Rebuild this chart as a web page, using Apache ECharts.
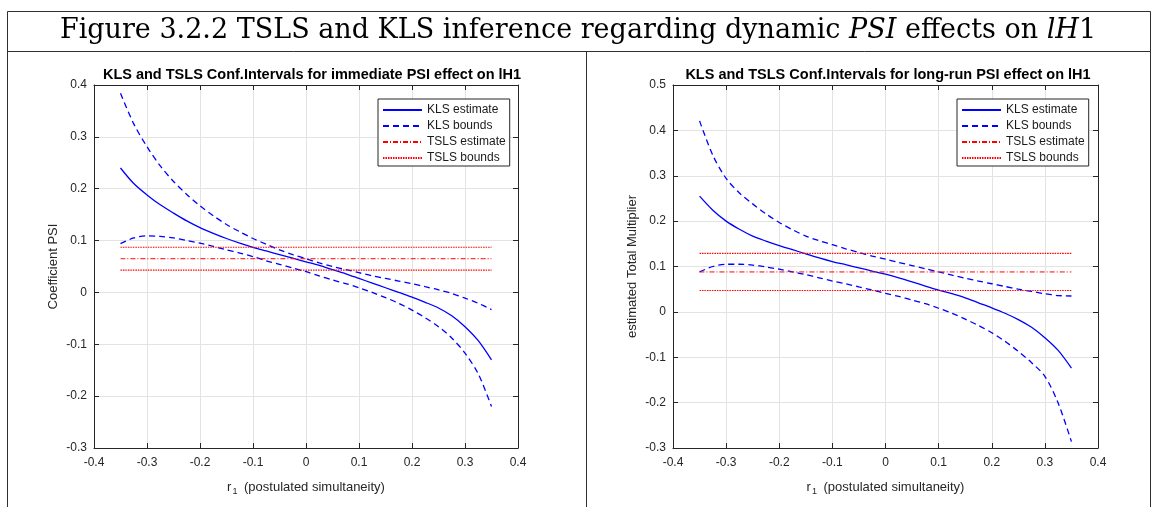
<!DOCTYPE html>
<html>
<head>
<meta charset="utf-8">
<script src="https://cdn.jsdelivr.net/npm/echarts@6/dist/echarts.min.js"></script>
<style>
  html, body { margin: 0; padding: 0; background: #fff; }
  #chart { width: 1154px; height: 507px; }
</style>
</head>
<body>
<div id="chart"></div>
<script>
// postulated simultaneity r1
const r1 = [-0.35, -0.325, -0.3, -0.275, -0.25, -0.225, -0.2, -0.175, -0.15, -0.125, -0.1, -0.075, -0.05, -0.025, 0,
  0.025, 0.05, 0.075, 0.1, 0.125, 0.15, 0.175, 0.2, 0.225, 0.25, 0.275, 0.3, 0.325, 0.35];

// immediate PSI effect
const immKlsEstimate = [0.240, 0.210, 0.188, 0.169, 0.153, 0.138, 0.125, 0.114, 0.104, 0.095, 0.087, 0.080, 0.073, 0.066, 0.059,
  0.052, 0.044, 0.036, 0.027, 0.018, 0.009, 0.000, -0.009, -0.019, -0.030, -0.045, -0.066, -0.093, -0.130];
const immKlsUpper = [0.384, 0.325, 0.281, 0.244, 0.214, 0.189, 0.167, 0.148, 0.131, 0.117, 0.104, 0.093, 0.082, 0.073, 0.065,
  0.057, 0.050, 0.044, 0.038, 0.032, 0.027, 0.022, 0.017, 0.011, 0.005, -0.002, -0.011, -0.021, -0.033];
const immKlsLower = [0.094, 0.105, 0.109, 0.108, 0.105, 0.100, 0.095, 0.089, 0.082, 0.076, 0.069, 0.061, 0.054, 0.047, 0.040,
  0.032, 0.024, 0.017, 0.009, 0.000, -0.010, -0.021, -0.034, -0.049, -0.066, -0.088, -0.117, -0.157, -0.220];
const immTslsEstimate = 0.065;
const immTslsBounds = [0.043, 0.087];

// long-run PSI effect
const lrKlsEstimate = [0.255, 0.224, 0.200, 0.182, 0.167, 0.156, 0.146, 0.137, 0.128, 0.119, 0.111, 0.104, 0.097, 0.090, 0.083,
  0.075, 0.066, 0.057, 0.048, 0.040, 0.031, 0.020, 0.009, -0.003, -0.017, -0.034, -0.057, -0.085, -0.124];
const lrKlsUpper = [0.421, 0.345, 0.294, 0.262, 0.238, 0.216, 0.197, 0.181, 0.167, 0.157, 0.148, 0.139, 0.131, 0.123, 0.116,
  0.109, 0.102, 0.095, 0.088, 0.081, 0.074, 0.068, 0.062, 0.056, 0.050, 0.045, 0.040, 0.036, 0.035];
const lrKlsLower = [0.088, 0.100, 0.105, 0.105, 0.103, 0.099, 0.094, 0.088, 0.082, 0.075, 0.068, 0.062, 0.055, 0.048, 0.041,
  0.034, 0.026, 0.018, 0.008, -0.003, -0.016, -0.030, -0.046, -0.065, -0.087, -0.112, -0.142, -0.201, -0.286];
const lrTslsEstimate = 0.088;
const lrTslsBounds = [0.047, 0.129];

// axis ticks
const xTicks = { min: -0.4, max: 0.4, step: 0.1 };
const immYTicks = { min: -0.3, max: 0.4, step: 0.1 };
const lrYTicks = { min: -0.3, max: 0.5, step: 0.1 };

const names = ['KLS estimate', 'KLS bounds', 'TSLS estimate', 'TSLS bounds'];
const font = '"Liberation Sans", Arial, sans-serif';
const axisColor = '#262626';

const pairs = (ys) => r1.map((x, i) => [x, ys[i]]);
const flat = (v) => [[r1[0], v], [r1[r1.length - 1], v]];

function line(name, data, idx, style) {
  return {
    type: 'line', name, data, xAxisIndex: idx, yAxisIndex: idx,
    symbol: 'none', smooth: 0.3, lineStyle: style, itemStyle: { color: style.color }, z: 3
  };
}

const klsSolid = { color: '#0000ff', width: 1.3, type: 'solid' };
const klsDash = { color: '#0000ff', width: 1.3, type: [6, 4] };
const tslsDashDot = { color: '#ff0000', width: 1, type: [5, 2, 1, 2] };
const tslsDot = { color: '#ff0000', width: 1.1, type: [1.5, 1] };

function panelSeries(idx, est, up, lo, tEst, tBounds) {
  return [
    line(names[0], pairs(est), idx, klsSolid),
    line(names[1], pairs(up), idx, klsDash),
    line(names[1], pairs(lo), idx, klsDash),
    line(names[2], flat(tEst), idx, tslsDashDot),
    line(names[3], flat(tBounds[0]), idx, tslsDot),
    line(names[3], flat(tBounds[1]), idx, tslsDot)
  ];
}

function xAxes(grid) {
  const base = {
    type: 'value', gridIndex: grid, min: xTicks.min, max: xTicks.max, interval: xTicks.step,
    axisLine: { onZero: false, lineStyle: { color: axisColor, width: 1 } },
    axisTick: { inside: true, length: 5, lineStyle: { color: axisColor } }
  };
  return [
    Object.assign({}, base, {
      position: 'bottom',
      name: '{a|r}{s|1}{a| (postulated simultaneity)}',
      nameLocation: 'middle', nameGap: 30,
      nameTextStyle: {
        rich: {
          a: { fontFamily: font, fontSize: 13, color: axisColor, lineHeight: 18, verticalAlign: 'middle' },
          s: { fontFamily: font, fontSize: 9, color: axisColor, lineHeight: 18, verticalAlign: 'bottom', padding: [0, 3, 0, 1] }
        }
      },
      axisLabel: { fontFamily: font, fontSize: 12, color: axisColor, margin: 9 },
      splitLine: { show: true, lineStyle: { color: '#e3e3e3' } }
    }),
    Object.assign({}, base, { position: 'top', axisLabel: { show: false }, splitLine: { show: false } })
  ];
}

function yAxes(grid, ticks, title) {
  const base = {
    type: 'value', gridIndex: grid, min: ticks.min, max: ticks.max, interval: ticks.step,
    axisLine: { onZero: false, show: true, lineStyle: { color: axisColor, width: 1 } },
    axisTick: { show: true, inside: true, length: 5, lineStyle: { color: axisColor } }
  };
  return [
    Object.assign({}, base, {
      position: 'left',
      name: title, nameLocation: 'middle', nameGap: 34, nameRotate: 90,
      nameTextStyle: { fontFamily: font, fontSize: 13, color: axisColor },
      axisLabel: { fontFamily: font, fontSize: 12, color: axisColor, margin: 7 },
      splitLine: { show: true, lineStyle: { color: '#e3e3e3' } }
    }),
    Object.assign({}, base, { position: 'right', axisLabel: { show: false }, splitLine: { show: false } })
  ];
}

function legendAt(left) {
  return {
    data: names, left, top: 99, orient: 'vertical',
    itemWidth: 39, itemHeight: 13, itemGap: 4, padding: [5, 4, 2, 4],
    borderColor: axisColor, borderWidth: 1, borderRadius: 0, backgroundColor: '#fff',
    selectedMode: false,
    itemStyle: { opacity: 0 },
    textStyle: { fontFamily: font, fontSize: 12, color: '#1a1a1a' }
  };
}

const frame = { stroke: '#303030', lineWidth: 1 };
const seg = (x1, y1, x2, y2) => ({ type: 'line', shape: { x1, y1, x2, y2 }, style: frame, silent: true });
const serif = '"DejaVu Serif", "Liberation Serif", serif';

const chart = echarts.init(document.getElementById('chart'));
chart.setOption({
  animation: false,
  backgroundColor: '#fff',
  grid: [
    { left: 94, top: 85, width: 424, height: 363 },
    { left: 673, top: 85, width: 425, height: 363 }
  ],
  xAxis: [...xAxes(0), ...xAxes(1)],
  yAxis: [
    ...yAxes(0, immYTicks, 'Coefficient PSI'),
    ...yAxes(1, lrYTicks, 'estimated Total Multiplier')
  ],
  legend: [legendAt(378), legendAt(957)],
  series: [
    ...panelSeries(0, immKlsEstimate, immKlsUpper, immKlsLower, immTslsEstimate, immTslsBounds),
    ...panelSeries(2, lrKlsEstimate, lrKlsUpper, lrKlsLower, lrTslsEstimate, lrTslsBounds)
  ],
  graphic: [
    seg(7.5, 11.5, 1150.5, 11.5),
    seg(7.5, 51.5, 1150.5, 51.5),
    seg(7.5, 11.5, 7.5, 507),
    seg(1150.5, 11.5, 1150.5, 507),
    seg(586.5, 51.5, 586.5, 507),
    {
      type: 'text', x: 578, y: 31, silent: true,
      style: {
        text: '{n|Figure 3.2.2 TSLS and KLS inference regarding dynamic }{i|PSI}{n| effects on }{i|lH}{n|1}',
        align: 'center', verticalAlign: 'middle',
        rich: {
          n: { fontFamily: serif, fontSize: 27, fill: '#000' },
          i: { fontFamily: serif, fontSize: 27, fontStyle: 'italic', fill: '#000' }
        }
      }
    },
    {
      type: 'text', x: 312, y: 75, silent: true,
      style: { text: 'KLS and TSLS Conf.Intervals for immediate PSI effect on lH1', align: 'center', verticalAlign: 'middle',
        fontFamily: font, fontSize: 14.5, fontWeight: 'bold', fill: '#000' }
    },
    {
      type: 'text', x: 888, y: 75, silent: true,
      style: { text: 'KLS and TSLS Conf.Intervals for long-run PSI effect on lH1', align: 'center', verticalAlign: 'middle',
        fontFamily: font, fontSize: 14.5, fontWeight: 'bold', fill: '#000' }
    }
  ]
});
</script>
</body>
</html>
